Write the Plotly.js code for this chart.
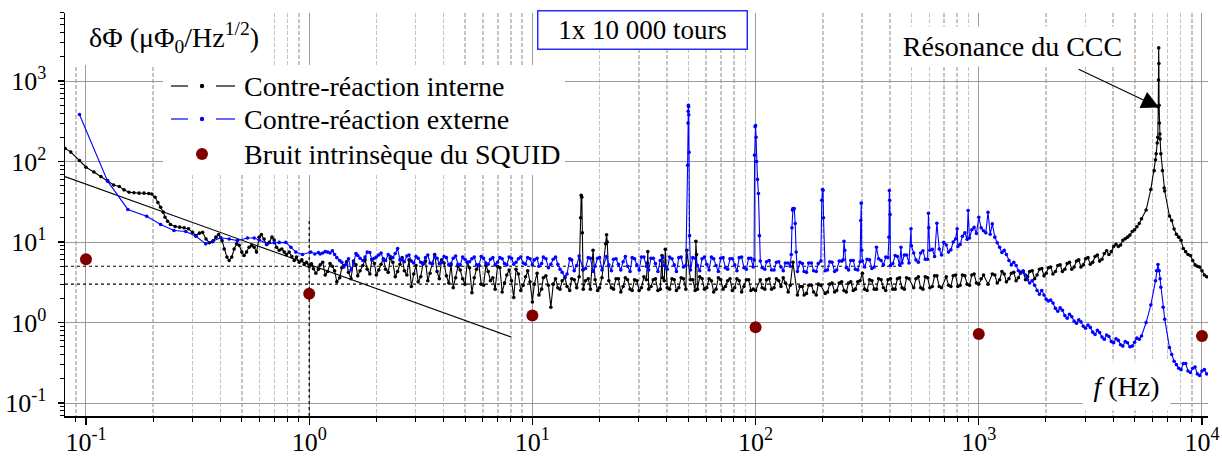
<!DOCTYPE html>
<html><head><meta charset="utf-8">
<script src="https://cdn.plot.ly/plotly-3.0.1.min.js"></script>
<style>html,body{margin:0;padding:0;background:#fff;}#chart{width:1222px;height:457px;}</style>
</head><body><div id="chart"></div>
<script>
// ---------- data ----------
const blackLowF = [0.0807,0.0855,0.0935,0.1,0.1085,0.1166,0.125,0.133,0.141,0.148,0.156,0.164,0.173,0.182,0.191,0.197,0.204,0.21,0.216,0.222,0.226,0.232,0.239,0.251,0.263,0.275,0.288,0.30,0.311,0.322,0.333,0.345,0.357,0.369,0.382,0.393,0.407,0.416,0.428,0.438,0.45,0.461,0.473,0.486,0.499,0.511,0.524,0.538,0.553,0.567,0.581,0.597,0.611,0.628,0.644,0.662,0.681,0.697,0.714,0.734,0.754,0.773,0.791,0.813,0.836,0.857,0.877,0.902,0.927,0.95,0.973,1.0,1.024,1.045,1.071];
const blackLowV = [145,131,103,85,74,65,58,51,49,44.5,41.6,41,40.5,40.5,40,39.5,36,31,27,23.5,20.3,18.1,16.5,15.6,15.3,15,14.6,13.2,12.0,12.9,13.2,10.9,9.8,10.1,11.5,12.4,10.4,8.2,6.5,5.9,6.5,8.2,9.5,9.1,7.5,6.8,7.5,8.6,9.1,8.6,7.5,11.5,12.4,10.9,9.3,9.9,11.5,10.6,8.6,7.9,8.2,7.5,7.0,7.5,6.6,5.9,6.5,5.6,6.0,5.25,5.6,4.9,5.35,4.65,4.1];

const blueLowF = [0.0935,0.125,0.154,0.187,0.216,0.248,0.28,0.311,0.344,0.372,0.402,0.438,0.477,0.529,0.567,0.597,0.65,0.697,0.734,0.786,0.828,0.872,0.933,1.017,1.06];
const blueLowV = [384,57,25.4,20.9,16.5,13.9,13.5,11.8,9.5,10.4,11.3,10.9,10.4,11.2,11.2,10.6,9.5,9.8,9.9,9.9,8.6,7.5,7.0,7.5,7.1];

// frequency grid (Hz) from 1.1 Hz to 10.5 kHz
const gridF = [
 1.10,1.15,1.21,1.27,1.33,1.40,1.47,1.54,1.62,1.69,1.78,1.87,1.96,2.05,2.15,2.26,2.37,2.49,2.61,2.74,2.87,3.01,3.16,3.32,3.48,3.65,3.83,4.02,4.22,4.42,4.64,4.87,5.11,5.36,5.62,5.90,6.19,6.49,6.81,7.15,7.50,7.87,8.25,8.66,9.09,9.53,
 10.0,10.5,11.0,11.5,12.1,12.7,13.3,14.0,14.7,15.4,16.2,16.9,17.8,18.7,19.6,20.5,21.5,22.6,23.7,24.9,26.1,27.4,28.7,30.1,31.6,33.2,34.8,36.5,38.3,40.2,42.2,44.2,46.4,48.7,51.1,53.6,56.2,59.0,61.9,64.9,68.1,71.5,75.0,78.7,82.5,86.6,90.9,95.3,
 100,105,110,115,121,127,133,140,147,154,162,169,178,187,196,205,215,226,237,249,261,274,287,301,316,332,348,365,383,402,422,442,464,487,511,536,562,590,619,649,681,715,750,787,825,866,909,953,
 1000,1050,1100,1150,1210,1270,1330,1400,1470,1540,1620,1690,1780,1870,1960,2050,2150,2260,2370,2490,2610,2740,2870,3010,3160,3320,3480,3650,3830,4020,4220,4420,4640,4870,5110,5360,5620,5900,6190,6490,6810,7150,7500,7870,8250,8660,9090,9530,
 10000,10500];

const blackGridV = [
 4.6,5.6,4.3,5.0,3.2,4.8,5.7,3.5,5.2,4.4,6.0,4.0,5.4,4.5,6.2,4.2,5.6,4.3,6.4,3.9,2.8,5.1,3.7,5.8,4.1,7.0,3.5,5.5,3.1,2.7,5.0,3.5,5.6,2.35,4.6,3.0,5.1,3.3,2.6,4.8,3.1,4.5,2.05,4.0,2.9,4.4,
 1.8,4.1,2.6,3.8,1.55,3.5,2.6,3.6,2.5,3.4,3.7,2.6,3.5,7.9,2.5,3.6,12.3,2.7,3.5,2.4,3.6,2.6,3.4,2.5,3.7,2.6,3.4,2.5,3.6,2.7,3.5,2.5,3.6,2.6,3.4,2.5,3.7,2.6,3.5,2.4,3.6,2.6,3.3,2.5,3.5,2.4,3.4,2.5,
 2.5,3.4,2.6,3.5,2.7,3.3,3.6,2.4,5.6,2.2,2.8,2.3,2.9,2.2,2.9,2.3,3.0,2.4,3.1,2.5,3.1,2.5,3.2,4.1,2.5,3.3,2.6,3.4,2.5,3.5,2.6,3.6,2.6,3.5,2.7,3.7,2.6,3.6,2.8,3.8,2.7,3.7,2.8,3.9,2.9,3.8,2.9,4.0,
 3.0,3.9,3.0,4.0,3.1,4.3,3.2,4.1,3.3,4.2,3.4,4.3,3.5,4.6,3.8,4.8,4.0,5.1,4.3,5.4,4.6,5.8,4.9,6.2,5.3,6.6,5.8,7.2,7.0,8.8,8.8,10.5,11.5,13.5,15.5,19.5,25,45,105,190,43,21,14.5,11.5,8.3,7.0,5.9,5.0,
 4.4,3.7];

const blueGridV = [
 7.4,7.3,7.5,7.8,6.4,5.6,5.3,4.5,7.2,6.3,6.5,7.4,6.3,6.9,6.0,7.0,6.4,8.3,6.2,6.7,5.8,6.6,5.6,6.4,5.5,6.7,5.4,6.6,5.2,6.3,5.3,6.5,5.6,6.2,5.2,6.6,5.5,6.1,5.2,6.4,5.4,6.5,5.3,6.2,5.5,6.4,
 5.2,6.3,5.4,6.2,5.3,6.5,4.6,3.7,6.2,4.4,6.7,4.6,6.4,4.3,6.3,4.5,6.6,4.4,6.2,4.5,6.6,4.3,6.2,4.5,6.5,4.5,6.3,4.3,6.4,4.6,6.2,4.3,6.5,5.1,4.5,6.3,4.4,6.5,4.5,6.2,4.3,6.4,4.6,6.2,4.4,6.5,4.6,6.3,
 280,5.8,4.6,5.9,4.5,5.7,4.4,5.5,26,4.3,5.4,4.2,5.5,4.3,5.8,4.4,5.7,4.3,5.8,10.2,4.5,5.9,4.5,5.8,6.1,4.7,8.6,5.9,6.5,5.1,6.8,5.2,6.9,5.5,7.3,5.6,7.8,6.1,8.1,17.1,6.9,9.2,8.0,10.9,9.3,13.0,11.2,15.2,
 20.3,13.8,23.4,16.8,9.8,7.4,7.0,5.2,5.1,4.1,3.9,3.1,2.9,2.25,2.2,1.85,1.75,1.38,1.42,1.13,1.18,0.98,1.02,0.85,0.87,0.71,0.75,0.62,0.67,0.56,0.60,0.51,0.56,0.51,0.64,0.68,1.0,1.65,3.3,3.5,1.1,0.49,0.33,0.27,0.31,0.25,0.27,0.23,
 0.25,0.23];

// second, interleaved set of samples (noise band)
const gridF2 = [
 1.12,1.18,1.24,1.30,1.37,1.43,1.50,1.58,1.65,1.74,1.82,1.91,2.00,2.10,2.20,2.31,2.43,2.55,2.67,2.80,2.94,3.08,3.24,3.40,3.56,3.74,3.92,4.12,4.32,4.53,4.75,4.99,5.23,5.49,5.76,6.04,6.34,6.65,6.98,7.32,7.68,8.06,8.45,8.87,9.31,9.76,
 10.2,10.7,11.2,11.8,12.4,13.0,13.6,14.3,15.0,15.8,17.3,18.2,19.1,20.0,22.0,23.1,24.3,25.5,26.7,28.0,29.4,30.8,32.4,34.0,35.6,37.4,39.0,41.2,43.2,45.3,47.5,52.3,54.9,57.6,60.4,63.4,66.5,69.8,73.2,76.8,80.6,84.5,88.7,93.1,97.6,
 107,112,118,124,130,136,143,158,165,173,182,191,210,220,231,243,255,267,280,294,308,324,340,356,374,392,412,432,453,475,523,549,576,604,634,665,732,768,806,845,887,931,976,
 1025,1180,1240,1300,1365,1435,1505,1580,1655,1735,1825,1915,2005,2100,2205,2315,2430,2550,2675,2805,2940,3085,3240,3400,3565,3740,3925,4120,4320,4530,4755,4990,5235,
 7320,7680,8060,8450,8870,9310,9760,10250];

const blackGrid2V = [
 5.2,3.9,5.4,4.4,3.6,5.1,4.2,5.8,3.8,5.1,4.6,6.1,3.9,5.3,4.6,6.3,3.7,5.3,4.4,6.0,4.0,3.2,5.5,3.3,5.4,4.3,6.0,3.8,5.2,3.6,4.5,3.0,4.8,3.6,5.2,2.9,4.3,3.6,5.0,2.4,3.9,3.3,4.6,2.5,3.7,3.2,
 3.0,2.2,3.6,2.9,3.0,2.7,3.3,2.8,3.5,2.7,3.3,2.6,3.4,2.7,3.3,2.6,3.5,2.8,3.4,2.5,3.3,2.7,3.4,2.8,3.5,2.6,3.3,2.6,3.4,2.7,3.5,3.4,2.6,3.5,2.7,3.3,2.6,3.4,2.8,3.5,2.7,3.3,2.8,3.4,2.6,
 2.7,3.4,2.6,3.5,2.8,3.1,2.9,2.8,2.2,2.9,2.4,3.0,2.4,3.1,2.5,3.2,2.4,3.2,2.6,3.3,2.6,3.4,2.6,3.5,2.7,3.4,2.6,3.5,2.7,3.6,3.5,2.7,3.7,2.7,3.8,2.8,2.9,3.8,2.8,3.9,3.0,3.9,3.1,
 3.5,3.9,3.4,4.0,3.5,4.2,3.6,4.3,3.7,4.4,3.9,4.7,4.1,4.9,4.3,5.2,4.6,5.6,4.9,6.0,5.2,6.4,5.6,6.9,6.1,7.8,7.6,9.4,9.2,11.0,12.2,14.2,17.0,
 18.5,12.5,10.5,7.6,6.8,5.2,4.9,3.9];

const blueGrid2V = [
 7.1,7.6,7.3,7.0,5.9,4.9,6.2,5.5,6.8,5.9,7.5,6.0,6.5,7.3,5.9,6.6,7.2,6.0,5.7,6.9,5.5,6.3,5.3,6.9,5.4,6.3,5.6,6.4,5.4,6.7,5.2,6.1,5.7,6.5,5.1,6.3,5.3,6.4,5.6,6.2,5.2,6.3,5.6,6.5,5.3,6.2,
 6.0,5.0,6.5,4.8,6.1,5.3,4.2,4.0,6.0,5.1,4.7,6.3,5.0,6.4,5.2,6.1,5.3,5.7,5.0,6.4,5.2,6.5,5.0,6.3,5.4,5.9,5.1,6.5,5.2,6.4,4.9,6.4,5.1,6.2,5.3,6.5,5.1,6.3,4.8,6.2,5.2,6.4,4.8,6.3,4.9,
 4.8,5.7,4.5,5.6,4.9,5.5,5.0,5.6,4.3,5.5,4.4,5.4,4.5,5.6,4.5,5.8,4.8,5.9,4.6,5.7,4.9,6.0,4.9,6.2,5.2,6.4,5.4,6.6,5.5,6.9,6.0,7.3,6.1,7.9,6.6,8.2,7.5,10.0,8.8,11.8,10.8,14.2,12.8,
 15.0,11.5,8.6,7.9,5.9,5.6,4.4,4.4,3.4,3.3,2.5,2.5,1.95,1.9,1.5,1.52,1.22,1.27,1.04,1.08,0.90,0.93,0.76,0.80,0.66,0.70,0.58,0.63,0.53,0.58,0.50,0.57,0.62,
 0.40,0.30,0.26,0.31,0.24,0.28,0.22,0.26];

// narrow lines and resonances
const blackSpikeF = [16.45,16.55,16.65,16.75,16.85,21.3,21.65,32.75,32.9,38.1,39.4,49.2,54.0,54.4,6108,6235,6300,6340,6370,6385,6400,6412,6425,6440,6478,6544,6653,6771];
const blackSpikeV = [20,38,36,13,4.5,9.5,10,5.5,7.6,6.8,8.1,7.9,10.2,7.0,77,125,170,200,475,1030,2580,1650,500,300,220,125,77,47];

const blueSpikeF = [49.6,49.8,49.9,50.0,50.1,50.2,50.35,50.6,98.5,99.0,99.5,100.5,101,102,103,104,144.5,145.5,146.3,149,150.5,152,198,199.5,200.5,201.5,247,251,296,297.5,299,396,397.5,399,400.5,448,497,499,595,597,697,800,896,1075,1125,6260,6350,6430,6540,6700];
const blueSpikeV = [90,300,420,500,480,380,130,12,6,120,270,200,100,60,40,12,7,15,25,26,17,7.5,33,45,44,20,6,7.9,18.5,30.4,7.9,11.5,43.7,33,22,8.6,14.6,9,22.8,15,9.9,14.6,24.6,13.0,12.5,4.4,5.25,4.4,2.74,1.55];

// intrinsic SQUID noise
const squidF = [0.1,1,10,100,1000,10000];
const squidV = [6.1,2.28,1.22,0.875,0.72,0.68];

// 1/f guide line and reference levels
const fitF = [0.0805,8.05];
const fitV = [65,0.66];
const levelF = [0.0805,460];
const level5 = [5,5];
const level3 = [3,3];
const vLineF = [1,1];
const vLineV = [0.0689,20];

// axis ticks and texts
const xTickVals = [0.1,1,10,100,1000,10000];
const xTickText = ['10<sup>-1</sup>','10<sup>0</sup>','10<sup>1</sup>','10<sup>2</sup>','10<sup>3</sup>','10<sup>4</sup>'];
const yTickVals = [0.1,1,10,100,1000];
const yTickText = ['10<sup>-1</sup>','10<sup>0</sup>','10<sup>1</sup>','10<sup>2</sup>','10<sup>3</sup>'];
const seriesNames = ['Contre-réaction interne','Contre-réaction externe','Bruit intrinsèque du SQUID'];

// ---------- build ----------
function merge(parts){
  let pts = [];
  parts.forEach(([fa,va]) => { fa.forEach((f,i)=>{ if(va[i] !== undefined) pts.push([f,va[i]]); }); });
  pts.sort((a,b)=>a[0]-b[0]);
  return {x: pts.map(p=>p[0]), y: pts.map(p=>p[1])};
}
const blk = merge([[blackLowF,blackLowV],[gridF,blackGridV],[gridF2,blackGrid2V],[blackSpikeF,blackSpikeV]]);
const blu = merge([[blueLowF,blueLowV],[gridF,blueGridV],[gridF2,blueGrid2V],[blueSpikeF,blueSpikeV]]);

const minorVals = [];
[0.01,0.1,1,10,100,1000].forEach(d=>{ for(let m=2;m<=9;m++) minorVals.push(d*m); });

const FONT = "'Liberation Serif', 'Times New Roman', serif";
const dotted = {color:'#000', width:1.2, dash:'3px,3px'};
const BLUE = '#0000ff', RED = '#800000';

const traces = [
  {x: levelF, y: level5, mode:'lines', line: dotted, showlegend:false, hoverinfo:'skip'},
  {x: levelF, y: level3, mode:'lines', line: dotted, showlegend:false, hoverinfo:'skip'},
  {x: vLineF, y: vLineV, mode:'lines', line: dotted, showlegend:false, hoverinfo:'skip'},
  {x: fitF, y: fitV, mode:'lines', line:{color:'#000', width:1.1}, showlegend:false, hoverinfo:'skip'},
  {x: blk.x, y: blk.y, mode:'lines+markers', name:seriesNames[0], showlegend:false,
   line:{color:'#000000', width:1.1}, marker:{color:'#000000', size:3.6}},
  {x: blu.x, y: blu.y, mode:'lines+markers', name:seriesNames[1], showlegend:false,
   line:{color:BLUE, width:1.1}, marker:{color:BLUE, size:3.6}},
  {x: squidF, y: squidV, mode:'markers', name:seriesNames[2], showlegend:false,
   marker:{color:RED, size:12}}
];

// pixel -> paper helpers (plot area 65..1208 x 13..416)
const W = 1143, H = 403, L = 65, T = 13;
const px = v => (v - L) / W;
const py = v => (T + H - v) / H;
const rect = (x0,y0,x1,y1,fill) => ({type:'rect', xref:'paper', yref:'paper', x0:px(x0), x1:px(x1), y0:py(y1), y1:py(y0), fillcolor:fill, line:{width:0}, layer:'above'});
const seg = (x0,x1,y,color) => ({type:'line', xref:'paper', yref:'paper', x0:px(x0), x1:px(x1), y0:py(y), y1:py(y), line:{color:color, width:1.2}, layer:'above'});
const dot = (x,y,r,color) => ({type:'circle', xref:'paper', yref:'paper', x0:px(x-r), x1:px(x+r), y0:py(y+r), y1:py(y-r), fillcolor:color, line:{color:color, width:0}, layer:'above'});

const legendRows = [86, 119, 153];
const shapes = [
  rect(66,13,270,65,'#fff'),          // behind y title
  rect(163,65,565,175,'#fff'),        // legend background
  seg(171,188,legendRows[0],'#000'), seg(216,235,legendRows[0],'#000'), dot(202,legendRows[0],2.2,'#000'),
  seg(171,188,legendRows[1],BLUE),   seg(216,235,legendRows[1],BLUE),   dot(202,legendRows[1],2.2,BLUE),
  dot(202,legendRows[2]+1,6,RED)
];

const ann = (x,y,text,extra) => Object.assign({xref:'paper', yref:'paper', x:px(x), y:py(y), text:text, showarrow:false,
  xanchor:'center', yanchor:'middle', font:{family:FONT, size:28, color:'#000'}}, extra||{});

const annotations = [
  ann(174,37,'δΦ (μΦ<sub>0</sub>/Hz<sup>1/2</sup>)',{font:{family:FONT, size:28, color:'#000'}}),
  ann(242,legendRows[0]+1,seriesNames[0],{xanchor:'left'}),
  ann(242,legendRows[1]+1,seriesNames[1],{xanchor:'left'}),
  ann(242,legendRows[2]+1,seriesNames[2],{xanchor:'left'}),
  ann(642,29.5,'1x 10 000 tours',{font:{family:FONT, size:27, color:'#000'}, bgcolor:'#fff', bordercolor:'#2a2aff', borderwidth:1.5, width:206, height:35, borderpad:1}),
  ann(1012.5,46.5,'Résonance du CCC',{bgcolor:'#fff', width:225, height:39, borderpad:0}),
  {xref:'x', yref:'y', x:Math.log10(6430), y:Math.log10(469), text:'', showarrow:true,
   ax:-82, ay:-39, arrowhead:2, arrowsize:3.2, arrowwidth:1.1, arrowcolor:'#000', standoff:0},
  ann(1126.5,386,'<i>f</i> (Hz)',{bgcolor:'#fff', width:87, height:48, borderpad:0})
];

const layout = {
  width:1222, height:457,
  margin:{l:65, r:14, t:13, b:41, pad:0},
  paper_bgcolor:'#fff', plot_bgcolor:'#fff',
  font:{family:FONT, size:26, color:'#000'},
  showlegend:false,
  xaxis:{type:'log', range:[-1.094, 4.027], showline:true, linecolor:'#000', linewidth:1.5,
         ticks:'outside', ticklen:7, tickwidth:1.2, tickcolor:'#000', ticklabelstandoff:-5,
         tickmode:'array', tickvals:xTickVals, ticktext:xTickText,
         tickfont:{family:FONT, size:26, color:'#000'},
         showgrid:true, gridcolor:'#9a9a9a', gridwidth:1, zeroline:false,
         minor:{tickmode:'array', tickvals:minorVals, ticks:'outside', ticklen:4, tickwidth:1, tickcolor:'#000',
                showgrid:true, gridcolor:'#c4c4c4', gridwidth:1.5, griddash:'4px,2px'}},
  yaxis:{type:'log', range:[-1.161, 3.845], showline:true, linecolor:'#000', linewidth:1.5,
         ticks:'outside', ticklen:6, tickwidth:1.2, tickcolor:'#000', ticklabelstandoff:6,
         tickmode:'array', tickvals:yTickVals, ticktext:yTickText,
         tickfont:{family:FONT, size:26, color:'#000'},
         showgrid:true, gridcolor:'#9a9a9a', gridwidth:1, zeroline:false,
         minor:{tickmode:'array', tickvals:minorVals, ticks:'outside', ticklen:3.5, tickwidth:1, tickcolor:'#000', showgrid:false}},
  shapes: shapes,
  annotations: annotations
};

Plotly.newPlot('chart', traces, layout, {staticPlot:true, displayModeBar:false});
</script></body></html>
